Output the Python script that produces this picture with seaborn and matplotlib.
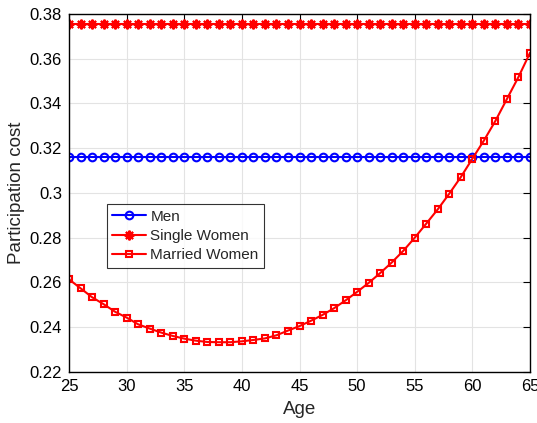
import numpy as np
import pandas as pd
import matplotlib
matplotlib.use("Agg")
import matplotlib.pyplot as plt
import seaborn as sns
from matplotlib.ticker import FuncFormatter

ages = list(range(25, 66))
men = [0.3162] * len(ages)
single_women = [0.3755] * len(ages)
married_women = [0.2614, 0.2574, 0.2534, 0.2503, 0.2469, 0.2443, 0.2413, 0.2394,
                 0.2376, 0.2361, 0.2349, 0.2340, 0.2334, 0.2333, 0.2333, 0.2337,
                 0.2343, 0.2350, 0.2364, 0.2385, 0.2405, 0.2429, 0.2455, 0.2485,
                 0.2520, 0.2558, 0.2598, 0.2642, 0.2689, 0.2741, 0.2800, 0.2863,
                 0.2927, 0.2997, 0.3071, 0.3153, 0.3234, 0.3322, 0.3420, 0.3518,
                 0.3626]

sns.set_style("whitegrid")
plt.rcParams['font.family'] = ['Liberation Sans', 'DejaVu Sans']

fig = plt.figure(figsize=(5.37, 4.23), dpi=100)
ax = fig.add_axes([0.1285, 0.1206, 0.8585, 0.8467])

sns.lineplot(x=ages, y=men, ax=ax, color='#0000ff', marker='o', markersize=5.5,
             markerfacecolor='none', markeredgecolor='#0000ff', markeredgewidth=1.5,
             linewidth=1.5, label='Men')
sns.lineplot(x=ages, y=single_women, ax=ax, color='#ff0000', marker=(8, 2, 0), markersize=7,
             markeredgecolor='#ff0000', markeredgewidth=1.5,
             linewidth=1.5, label='Single Women')
sns.lineplot(x=ages, y=married_women, ax=ax, color='#ff0000', marker='s', markersize=5,
             markerfacecolor='none', markeredgecolor='#ff0000', markeredgewidth=1.5,
             linewidth=1.5, label='Married Women')

ax.set_xlim(25, 65)
ax.set_ylim(0.22, 0.38)
ax.set_xticks(range(25, 66, 5))
ax.set_yticks(np.arange(0.22, 0.3801, 0.02))
ax.yaxis.set_major_formatter(FuncFormatter(lambda v, p: "0.3" if abs(v - 0.3) < 1e-9 else f"{v:.2f}"))
ax.grid(True, color='#e3e3e3', linewidth=0.8)
for s in ax.spines.values():
    s.set_visible(True)
    s.set_color('black')
    s.set_linewidth(1.0)
ax.tick_params(direction='in', length=5, width=0.8, top=True, right=True,
               labelsize=12, colors='black', pad=5)
ax.set_xlabel('Age', fontsize=13.5, labelpad=5)
ax.set_ylabel('Participation cost', fontsize=13.5, labelpad=3)

leg = ax.legend(loc='upper left', bbox_to_anchor=(0.082, 0.468), fontsize=11,
                frameon=True, fancybox=False, borderpad=0.35, labelspacing=0.35,
                handlelength=2.2, handletextpad=0.3, borderaxespad=0)
leg.get_frame().set_edgecolor('black')
leg.get_frame().set_linewidth(0.8)

fig.savefig('out.png', dpi=100)
